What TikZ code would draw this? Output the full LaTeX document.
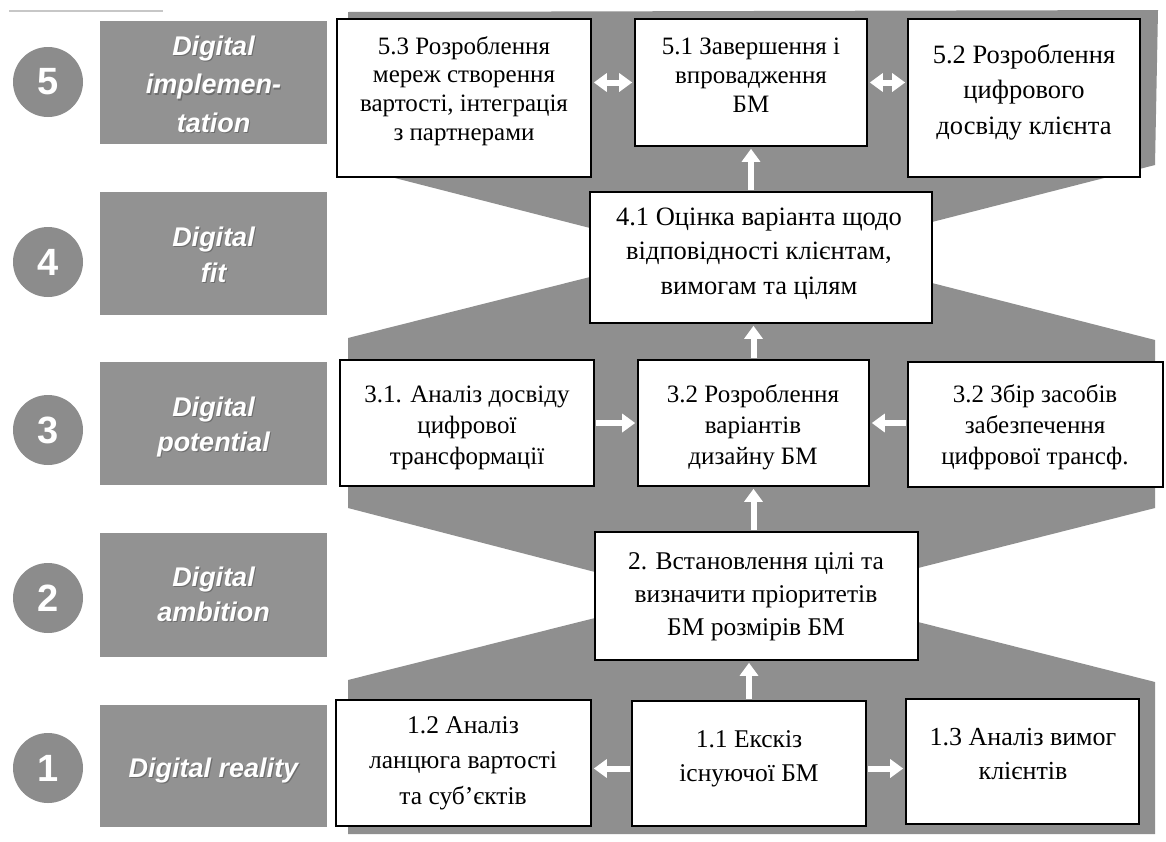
\documentclass[tikz,border=0pt]{standalone}
\usepackage{fontspec}
\setmainfont{Liberation Serif}
\newfontfamily\labfont{Liberation Sans}
\usetikzlibrary{arrows.meta}
\definecolor{bandgray}{RGB}{143,143,143}
\definecolor{labgray}{RGB}{146,146,146}
\definecolor{circgray}{RGB}{140,140,140}
\newcommand{\txtbl}[3][25]{\fontsize{#1}{#2}\selectfont\begin{tabular}[t]{@{}c@{}}#3\end{tabular}}
\newcommand{\labtbl}[2]{\fontsize{27}{#1}\selectfont\begin{tabular}[t]{@{}c@{}}#2\end{tabular}}
\newcommand{\mkbox}[5]{\node[bx, minimum width={(#4-#2)*1pt}, minimum height={(#5-#3)*1pt}] (#1) at ({(#2+#4)/2},{(#3+#5)/2}) {};}
\newcommand{\mklab}[3]{\node[lab, minimum width=227pt, minimum height={(#3-#2)*1pt}] (#1) at (213.5,{(#2+#3)/2}) {};}
\newcommand{\mklabtext}[4]{%
  \node[labt, text=black!75, opacity=0.45] (#1s) at (214.7,{#2+1.5}) {\labtbl{#3}{#4}};
  \node[labt] (#1) at (213.5,#2) {\labtbl{#3}{#4}};}
\begin{document}
\begin{tikzpicture}[x=1pt,y=-1pt,
  bx/.style={draw=black, line width=1.6pt, fill=white, inner sep=0pt},
  bt/.style={inner sep=0pt, anchor=base},
  lab/.style={fill=labgray, inner sep=0pt},
  labt/.style={text=white, inner sep=0pt, anchor=base, font=\labfont\bfseries\itshape},
  circ/.style={circle, fill=circgray, inner sep=0pt, minimum size=70pt, text=white, font=\labfont\bfseries\fontsize{38}{40}\selectfont},
  warr/.style={white, line width=6pt, -{Triangle[width=18pt,length=13pt]}, shorten <=1pt, shorten >=2pt},
  wdbl/.style={white, line width=6pt, {Triangle[width=18pt,length=13pt]}-{Triangle[width=18pt,length=13pt]}, shorten <=2pt, shorten >=2pt}]
\useasboundingbox (0,0) rectangle (1166,841);
\fill[white] (0,0) rectangle (1166,841);
% top thin line
\coordinate (tl1) at (9,11);
\coordinate (tl2) at (163,11);
\draw[black!22, line width=1.2pt] (tl1) -- (tl2);
% grey band
\fill[bandgray] (348,12) -- (1158,10) -- (1155,165) -- (932,222) -- (932,283) -- (1155,340)
  -- (1155,508) -- (918,568) -- (918,622) -- (1155,682) -- (1155,834) -- (348,834)
  -- (348,680) -- (595,618) -- (595,572) -- (348,508) -- (348,338) -- (590,277)
  -- (590,228) -- (348,166) -- cycle;
% circles
\node[circ] (c5) at (48,82) {5};
\node[circ] (c4) at (48,262) {4};
\node[circ] (c3) at (48,430) {3};
\node[circ] (c2) at (48,598) {2};
\node[circ] (c1) at (48,768) {1};
% label boxes
\mklab{l5}{21}{144}
\mklab{l4}{192}{315}
\mklab{l3}{362}{485}
\mklab{l2}{533}{657}
\mklab{l1}{705}{827}
\mklabtext{lt5}{55}{38.5}{Digital\\implemen-\\tation}
\mklabtext{lt4}{246}{36}{Digital\\fit}
\mklabtext{lt3}{416}{35}{Digital\\potential}
\mklabtext{lt2}{586}{35}{Digital\\ambition}
\mklabtext{lt1}{777}{35}{Digital reality}
% boxes
\mkbox{n53}{337}{19}{591}{177}
\mkbox{n51}{635}{19}{867}{146}
\mkbox{n52}{908}{19}{1140}{177}
\mkbox{n41}{590}{192}{932}{323}
\mkbox{n31}{340}{360}{594}{486}
\mkbox{n32}{638}{360}{869}{486}
\mkbox{n33}{908}{362}{1163}{487}
\mkbox{n2}{595}{532}{918}{660}
\mkbox{n12}{336}{700}{591}{826}
\mkbox{n11}{632}{701}{866}{826}
\mkbox{n13}{906}{699}{1139}{824}
% texts
\node[bt] (t53) at (464,54) {\txtbl{28.7}{5.3 Розроблення\\мереж створення\\вартості, інтеграція\\з партнерами}};
\node[bt] (t51) at (751,54) {\txtbl{29}{5.1 Завершення і\\впровадження\\БМ}};
\node[bt] (t52) at (1024,63) {\txtbl[26.5]{35.5}{5.2 Розроблення\\цифрового\\досвіду клієнта}};
\node[bt] (t41) at (759,225) {\txtbl[26.5]{34.5}{4.1 Оцінка варіанта щодо\\відповідності клієнтам,\\вимогам та цілям}};
\node[bt] (t31) at (467,402) {\txtbl{31}{3.1. Аналіз досвіду\\цифрової\\трансформації}};
\node[bt] (t32) at (753,402) {\txtbl{31}{3.2 Розроблення\\варіантів\\дизайну БМ}};
\node[bt] (t33) at (1035,402) {\txtbl{31}{3.2 Збір засобів\\забезпечення\\цифрової трансф.}};
\node[bt] (t2) at (756,569) {\txtbl[25.5]{33}{2. Встановлення цілі та\\визначити пріоритетів\\БМ розмірів БМ}};
\node[bt] (t12) at (463,733) {\txtbl[25.5]{35.5}{1.2 Аналіз\\ланцюга вартості\\та суб’єктів}};
\node[bt] (t11) at (749,747) {\txtbl[25.5]{34}{1.1 Екскіз\\існуючої БМ}};
\node[bt] (t13) at (1023,745) {\txtbl[26]{34}{1.3 Аналіз вимог\\клієнтів}};
% arrows
\draw[wdbl] (n53.east |- n51.west) -- (n51.west);
\draw[wdbl] (n51.east) -- (n52.west |- n51.east);
\draw[warr] (n51.south |- n41.north) -- (n51.south);
\draw[warr] (n32.north) -- (n32.north |- n41.south);
\draw[warr] (n31.east) -- (n32.west);
\draw[warr] (n33.west |- n32.west) -- (n32.east);
\draw[warr] (n32.south |- n2.north) -- (n32.south);
\draw[warr] (n11.north) -- (n11.north |- n2.south);
\draw[warr] ([yshift=-5pt]n11.west) -- ([yshift=-5pt]n11.west -| n12.east);
\draw[warr] ([yshift=-5pt]n11.east) -- ([yshift=-5pt]n11.east -| n13.west);
\end{tikzpicture}
\end{document}
